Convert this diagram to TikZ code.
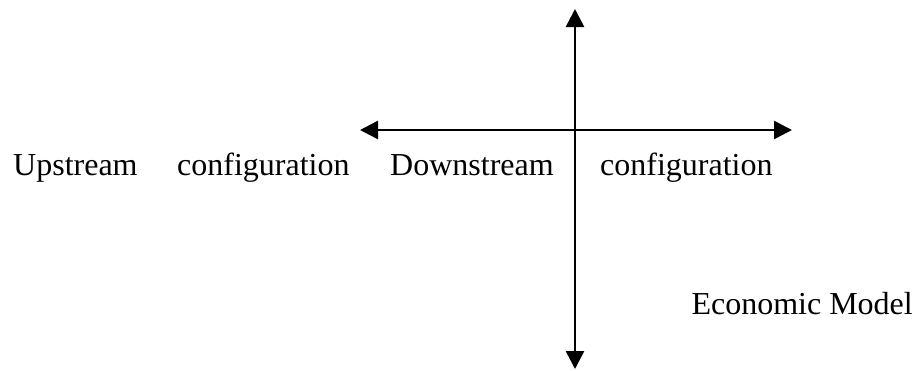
\documentclass[tikz,border=0pt]{standalone}
\usepackage{fontspec}
\setmainfont{Liberation Serif}
\usetikzlibrary{arrows.meta}
\begin{document}
\begin{tikzpicture}[x=1pt,y=-1pt,
  axis/.style={line width=2.6pt,-{Triangle[length=18pt,width=18pt]}},
  lbl/.style={inner sep=0pt,font=\fontsize{32}{38}\selectfont}]
\useasboundingbox (0,0) rectangle (916,370);
\coordinate (c) at (575,130);
\coordinate (top) at (575,9);
\coordinate (bot) at (575,369);
\coordinate (lft) at (360,130);
\coordinate (rgt) at (792,130);
\draw[axis] (c) -- (top);
\draw[axis] (c) -- (bot);
\draw[axis] (c) -- (lft);
\draw[axis] (c) -- (rgt);
\node[lbl,anchor=base west] (up) at (13,175) {Upstream};
\node[lbl,anchor=base west] (conf1) at (177,175) {configuration};
\node[lbl,anchor=base west] (down) at (390,175) {Downstream};
\node[lbl,anchor=base west] (conf2) at (600,175) {configuration};
\node[lbl,anchor=base east] (econ) at (913,314) {Economic Model};
\end{tikzpicture}
\end{document}
